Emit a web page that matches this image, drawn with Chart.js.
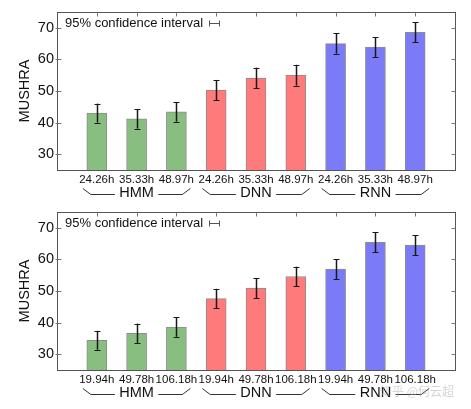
<!DOCTYPE html>
<html>
<head>
<meta charset="utf-8">
<script src="https://cdn.jsdelivr.net/npm/chart.js@4/dist/chart.umd.min.js"></script>
<style>
  html, body { margin: 0; padding: 0; background: #fff; }
  body { width: 471px; height: 409px; position: relative; overflow: hidden; }
  canvas { position: absolute; left: 0; }
  #wm { position: absolute; left: 380px; top: 382px; font: 12px "Noto Sans CJK SC", sans-serif; color: rgba(170,170,170,0.5); white-space: nowrap; }
</style>
</head>
<body>
<canvas id="c1" width="471" height="200" style="top:0"></canvas>
<canvas id="c2" width="471" height="200" style="top:200px"></canvas>
<div id="wm">知乎 @何云超</div>
<script>
// ---- data ----
const groupNames = ['HMM', 'DNN', 'RNN'];
const topHours = ['24.26h', '35.33h', '48.97h'];
const topMeans = [43.0, 41.2, 43.4, 50.3, 54.1, 55.0, 65.0, 63.9, 68.6];
const topCI    = [3.0, 3.1, 3.1, 3.2, 3.3, 3.3, 3.2, 3.2, 3.1];
const bottomHours = ['19.94h', '49.78h', '106.18h'];
const bottomMeans = [34.4, 36.6, 38.6, 47.6, 50.9, 54.6, 56.9, 65.4, 64.5];
const bottomCI    = [3.0, 3.1, 3.1, 3.1, 3.1, 3.1, 3.2, 3.2, 3.2];
const yTicks = [30, 40, 50, 60, 70];
const yMin = 25, yMax = 75;
const groupFill = ['#88bf80', '#ff7a7a', '#7b7bf8'];
const legendText = '95% confidence interval';
const yTitle = 'MUSHRA';

Chart.defaults.font.family = '"Liberation Sans", Arial, Helvetica, sans-serif';
Chart.defaults.color = '#111';

function buildChart(canvasId, hours, means, ci) {
  const tickLabels = [''];
  const groupLabels = [''];
  groupNames.forEach((g, gi) => {
    hours.forEach((h, hi) => {
      tickLabels.push(h);
      groupLabels.push(hi === 1 ? g : '');
    });
  });
  tickLabels.push('');
  groupLabels.push('');
  const data = [null, ...means, null];
  const ciPad = [null, ...ci, null];
  const colors = [null];
  groupNames.forEach((g, gi) => hours.forEach(() => colors.push(groupFill[gi])));
  colors.push(null);

  const decor = {
    id: 'decor',
    afterDatasetsDraw(chart) {
      const ctx = chart.ctx;
      const a = chart.chartArea;
      const ys = chart.scales.y, xs = chart.scales.x;
      const meta = chart.getDatasetMeta(0);
      ctx.save();
      // error bars
      ctx.strokeStyle = '#1a1a1a';
      meta.data.forEach((el, i) => {
        if (ciPad[i] == null || data[i] == null) return;
        const x = Math.round(el.x) + 0.5;
        const yt = ys.getPixelForValue(data[i] + ciPad[i]);
        const yb = ys.getPixelForValue(data[i] - ciPad[i]);
        ctx.lineWidth = 1.5;
        ctx.beginPath(); ctx.moveTo(x, yt); ctx.lineTo(x, yb); ctx.stroke();
        ctx.lineWidth = 1;
        ctx.beginPath();
        ctx.moveTo(x - 3, Math.round(yt) + 0.5); ctx.lineTo(x + 3, Math.round(yt) + 0.5);
        ctx.moveTo(x - 3, Math.round(yb) + 0.5); ctx.lineTo(x + 3, Math.round(yb) + 0.5);
        ctx.stroke();
      });
      // frame
      ctx.strokeStyle = '#555';
      ctx.lineWidth = 1;
      const L = Math.round(a.left) + 0.5, R = Math.round(a.right) + 0.5;
      const T = Math.round(a.top) + 0.5, B = Math.round(a.bottom) + 0.5;
      ctx.strokeRect(L, T, R - L, B - T);
      // inward ticks
      ctx.strokeStyle = '#777';
      ctx.beginPath();
      yTicks.forEach(v => {
        const y = Math.round(ys.getPixelForValue(v)) + 0.5;
        ctx.moveTo(L - 2, y); ctx.lineTo(L + 4, y);
        ctx.moveTo(R - 4, y); ctx.lineTo(R, y);
      });
      for (let i = 1; i < tickLabels.length - 1; i++) {
        const x = Math.round(xs.getPixelForValue(i)) + 0.5;
        ctx.moveTo(x, T); ctx.lineTo(x, T + 4);
      }
      ctx.stroke();
      // legend annotation
      ctx.fillStyle = '#111';
      ctx.font = '13px "Liberation Sans", Arial, sans-serif';
      ctx.textBaseline = 'middle';
      ctx.textAlign = 'left';
      const tx = a.left + 8, ty = a.top + 11;
      ctx.fillText(legendText, tx, ty);
      const w = ctx.measureText(legendText).width;
      const sx = Math.round(tx + w + 6) + 0.5, sy = Math.round(ty) + 0.5;
      ctx.strokeStyle = '#555';
      ctx.beginPath();
      ctx.moveTo(sx, sy); ctx.lineTo(sx + 10, sy);
      ctx.moveTo(sx, sy - 3); ctx.lineTo(sx, sy + 3);
      ctx.moveTo(sx + 10, sy - 3); ctx.lineTo(sx + 10, sy + 3);
      ctx.stroke();
      // group brackets
      const s = xs.getPixelForValue(2) - xs.getPixelForValue(1);
      ctx.font = '14px "Liberation Sans", Arial, sans-serif';
      ctx.strokeStyle = '#333';
      ctx.lineWidth = 1;
      const yEnd = a.bottom + 18.5, yH = a.bottom + 24.5;
      groupNames.forEach((g, gi) => {
        const c = xs.getPixelForValue(gi * hours.length + 2);
        const half = ctx.measureText(g).width / 2 + 5;
        ctx.beginPath();
        ctx.moveTo(c - 1.35 * s, yEnd); ctx.lineTo(c - 1.15 * s, yH); ctx.lineTo(c - half, yH);
        ctx.moveTo(c + half, yH); ctx.lineTo(c + 1.15 * s, yH); ctx.lineTo(c + 1.35 * s, yEnd);
        ctx.stroke();
      });
      ctx.restore();
    }
  };

  return new Chart(document.getElementById(canvasId), {
    type: 'bar',
    data: {
      labels: tickLabels,
      datasets: [{
        data: data,
        backgroundColor: colors,
        borderColor: 'rgba(0,0,0,0.45)',
        borderWidth: 1,
        barThickness: 20,
        borderSkipped: false
      }]
    },
    options: {
      responsive: false,
      animation: false,
      devicePixelRatio: 1,
      layout: { padding: { left: 0, right: 16, top: 12, bottom: 0 } },
      plugins: { legend: { display: false }, tooltip: { enabled: false } },
      scales: {
        x: {
          type: 'category',
          offset: false,
          grid: { display: false, drawTicks: false },
          border: { display: false },
          ticks: { font: { size: 11.5 }, color: '#111', padding: 3, maxRotation: 0, minRotation: 0, autoSkip: false },
          afterFit(scale) { scale.height = 13; }
        },
        x2: {
          type: 'category',
          position: 'bottom',
          labels: groupLabels,
          offset: false,
          grid: { display: false, drawTicks: false },
          border: { display: false },
          ticks: { font: { size: 14.5 }, color: '#111', padding: 1, maxRotation: 0, minRotation: 0, autoSkip: false },
          afterFit(scale) { scale.height = 17; }
        },
        y: {
          min: yMin, max: yMax,
          grid: { display: false, drawTicks: false },
          border: { display: false },
          afterBuildTicks(scale) { scale.ticks = yTicks.map(v => ({ value: v })); },
          ticks: { font: { size: 14.5 }, color: '#111', padding: 3 },
          title: { display: true, text: yTitle, font: { size: 14.5 }, color: '#111', padding: { top: 16, bottom: 0 } },
          afterFit(scale) { scale.width = 57; }
        }
      }
    },
    plugins: [decor]
  });
}

buildChart('c1', topHours, topMeans, topCI);
buildChart('c2', bottomHours, bottomMeans, bottomCI);
</script>
</body>
</html>
